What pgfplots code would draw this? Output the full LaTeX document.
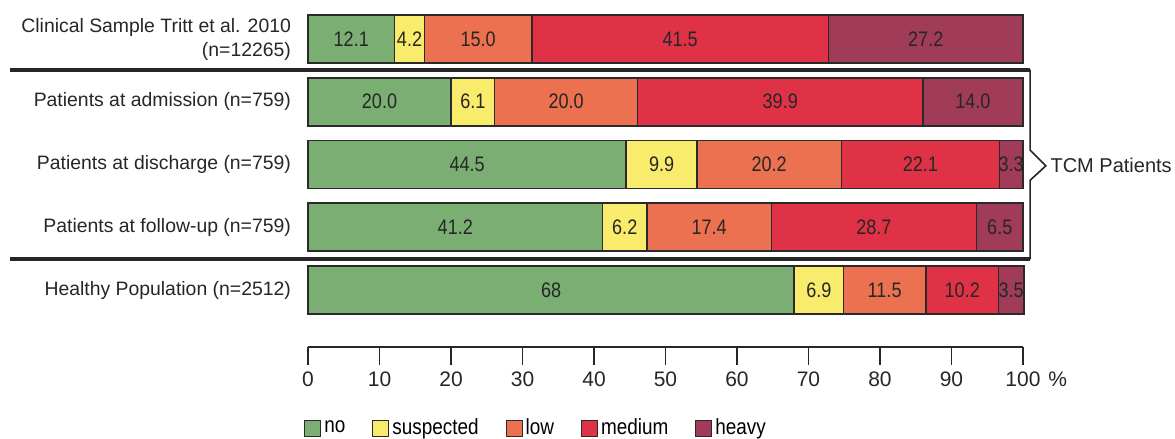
\documentclass[border=0pt]{standalone}
\usepackage{pgfplots}
\usepackage{pgfplotstable}
\usepackage{fontspec}
\pgfplotsset{compat=1.18}
\setmainfont{Liberation Sans}
\newfontfamily\narrowsf{Liberation Sans}[FakeStretch=0.86]

\definecolor{cno}{HTML}{7AAE73}
\definecolor{csus}{HTML}{F9EB6B}
\definecolor{clow}{HTML}{EB7150}
\definecolor{cmed}{HTML}{E03247}
\definecolor{chvy}{HTML}{A03B58}
\definecolor{barline}{HTML}{2A2A2A}

% groups: 0 clinical, 1 admission, 2 discharge, 3 follow-up, 4 healthy
\pgfplotstableread{
grp no   sus low  med  hvy
0   12.1 4.2 15.0 41.5 27.2
1   20.0 6.1 20.0 39.9 14.0
2   44.5 9.9 20.2 22.1 3.3
3   41.2 6.2 17.4 28.7 6.5
4   68   6.9 11.5 10.2 3.5
}\datatable

\pgfplotsset{
  seg/.style={fill=#1, draw=barline, line width=0.8pt},
}

\begin{document}
\begin{tikzpicture}
\begin{axis}[
  scale only axis, width=357.5pt, height=173.5pt,
  xbar stacked, bar width=24pt,
  xmin=0, xmax=100, ymin=-0.6215, ymax=4.908, y dir=reverse,
  axis x line=bottom, axis y line=left,
  x axis line style={-, line width=0.8pt, draw=black!85},
  y axis line style={draw=none},
  xtick={0,10,...,100},
  xticklabels={0,10,20,30,40,50,60,70,80,90,100\rlap{\hspace{4pt}\%}},
  xticklabel style={font=\fontsize{10.5}{12}\selectfont, text=black!85},
  tick align=outside, major tick length=9pt,
  xtick style={line width=0.8pt, draw=black!85},
  ytick={0,1,2,3,4}, ytick style={draw=none},
  yticklabels={{Clinical Sample Tritt et al. 2010\\(n=12265)},
    {Patients at admission (n=759)},
    {Patients at discharge (n=759)},
    {Patients at follow-up (n=759)},
    {Healthy Population (n=2512)}},
  yticklabel style={align=right, font=\fontsize{9.7}{12}\selectfont, text=black!85, xshift=4pt},
  point meta=explicit symbolic,
  nodes near coords,
  every node near coord/.append style={anchor=center,
    font=\fontsize{10.5}{12}\selectfont\narrowsf, text=black!85},
  clip=false,
  legend columns=5,
  legend style={draw=none, fill=none, at={(axis cs:-1.4,6.2)}, anchor=west,
    font=\fontsize{11}{12}\selectfont\narrowsf,
    nodes={inner sep=1.5pt},
    /tikz/every even column/.append style={column sep=12pt}},
  legend image code/.code={\draw[#1, line width=0.5pt] (0pt,-4pt) rectangle (8pt,4pt);},
]
\addplot[seg=cno]  table[x=no,  y=grp, meta=no]  {\datatable};
\addplot[seg=csus] table[x=sus, y=grp, meta=sus] {\datatable};
\addplot[seg=clow] table[x=low, y=grp, meta=low] {\datatable};
\addplot[seg=cmed] table[x=med, y=grp, meta=med] {\datatable};
\addplot[seg=chvy] table[x=hvy, y=grp, meta=hvy] {\datatable};
\legend{no,suspected,low,medium,heavy}

% separators and bracket for the TCM patient group
\draw[line width=2pt, draw=black!85] (axis cs:-41.7,0.5) -- (axis cs:101,0.5);
\draw[line width=2pt, draw=black!85] (axis cs:-41.7,3.5) -- (axis cs:101,3.5);
\draw[line width=0.8pt, draw=black!85] (axis cs:100.5,0.5) -- (axis cs:101,0.5) -- (axis cs:101,1.77)
  -- (axis cs:103.2,2.02) -- (axis cs:101,2.25) -- (axis cs:101,3.5) -- (axis cs:100.5,3.5);
\node[anchor=west, font=\fontsize{10}{12}\selectfont, text=black!85, inner sep=0pt] at (axis cs:103.8,2.02) {TCM Patients};

\coordinate (bbsw) at (axis cs:-43.08,6.374);
\coordinate (bbne) at (axis cs:121.26,-0.6215);
\end{axis}
\pgfresetboundingbox
\path (bbsw) rectangle (bbne);
\end{tikzpicture}
\end{document}
